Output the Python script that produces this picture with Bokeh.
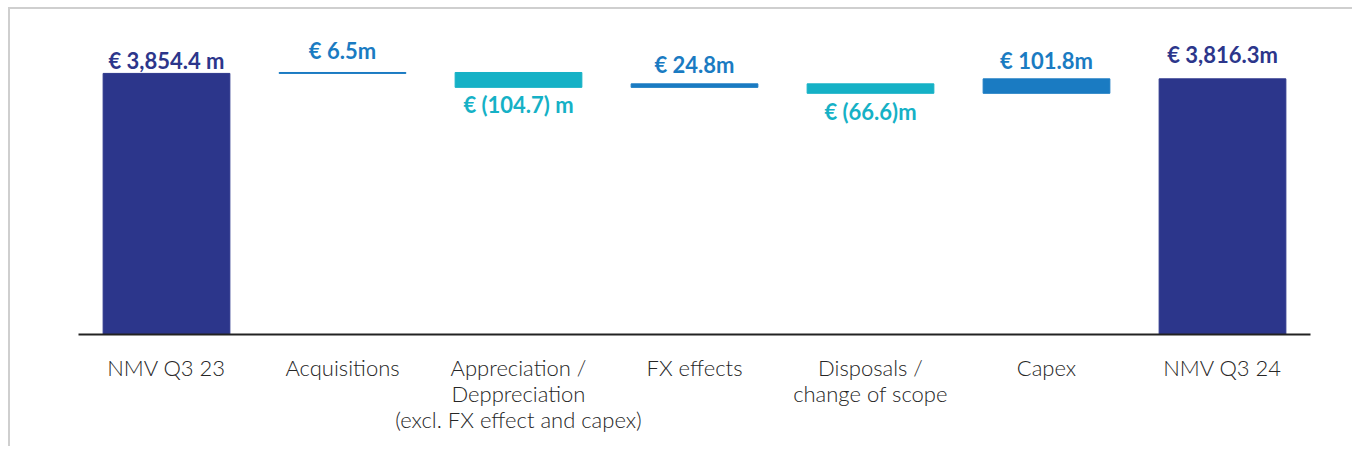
from bokeh.plotting import figure
from bokeh.models import ColumnDataSource, Range1d, FactorRange
from bokeh.embed import file_html
from bokeh.resources import INLINE
from bokeh.core.properties import value

# ---- data ----
categories = [
    "NMV Q3 23",
    "Acquisitions",
    "Appreciation /\nDeppreciation\n(excl. FX effect and capex)",
    "FX effects",
    "Disposals /\nchange of scope",
    "Capex",
    "NMV Q3 24",
]
start_value = 3854.4
changes = [6.5, -104.7, 24.8, -66.6, 101.8]
end_value = 3816.3
value_labels = ["€ 3,854.4 m", "€ 6.5m", "€ (104.7) m", "€ 24.8m",
                "€ (66.6)m", "€ 101.8m", "€ 3,816.3m"]

# ---- styles ----
NAVY = "#2c368b"
BLUE = "#1a7bc2"
TEAL = "#15b1c6"
bar_colors = [NAVY, BLUE, TEAL, BLUE, TEAL, BLUE, NAVY]
label_offsets = [-13, -22, 17, -19, 18, -18, -24]   # px from bar edge
AXIS_START = 2016
AXIS_END = 4220

# ---- waterfall geometry from values ----
tops, bottoms = [start_value], [AXIS_START]
running = start_value
for c in changes:
    new = running + c
    tops.append(max(running, new))
    bottoms.append(min(running, new))
    running = new
tops.append(end_value)
bottoms.append(AXIS_START)

label_y = []
for i, (t, b) in enumerate(zip(tops, bottoms)):
    if 0 < i < len(categories) - 1 and changes[i - 1] < 0:
        label_y.append(b)
    else:
        label_y.append(t)

src = ColumnDataSource(dict(cat=categories, top=tops, bottom=bottoms, color=bar_colors,
                            ly=label_y, lab=value_labels, off=label_offsets))

p = figure(x_range=FactorRange(*categories, range_padding=0),
           y_range=Range1d(AXIS_START, AXIS_END),
           width=1344, height=439, output_backend="svg", toolbar_location=None,
           min_border_left=68, min_border_right=44, min_border_top=12, min_border_bottom=114)
p.styles = {"border-top": "2px solid #cfcfcf", "border-left": "2px solid #cfcfcf",
            "margin-left": "8px", "margin-top": "7px"}

p.vbar(x="cat", top="top", bottom="bottom", width=0.72, color="color", source=src)
p.text(x="cat", y="ly", text="lab", y_offset="off", text_color="color", source=src,
       text_align="center", text_baseline="middle", text_font=value("Lato"),
       text_font_style="bold", text_font_size="22px")

p.yaxis.visible = False
p.xgrid.visible = False
p.ygrid.visible = False
p.outline_line_color = None
ax = p.xaxis[0]
ax.axis_line_color = "#222222"
ax.axis_line_width = 2
ax.major_tick_line_color = None
ax.minor_tick_line_color = None
ax.major_tick_out = 0
ax.major_label_standoff = 19
ax.major_label_text_font = "Lato Light"
ax.major_label_text_font_size = "22px"
ax.major_label_text_line_height = 0.97
ax.major_label_text_color = "#262626"
ax.major_label_orientation = "horizontal"

open("out.html", "w").write(file_html(p, INLINE))
